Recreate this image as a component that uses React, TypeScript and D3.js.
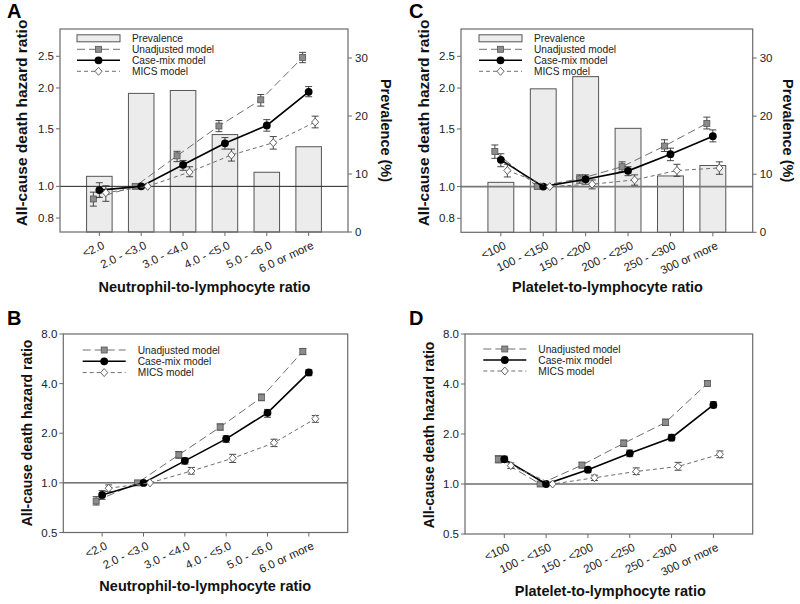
import React from "react";
import * as d3 from "d3";

const nlrCats = ["<2.0", "2.0 - <3.0", "3.0 - <4.0", "4.0 - <5.0", "5.0 - <6.0", "6.0 or more"];
const plrCats = ["<100", "100 - <150", "150 - <200", "200 - <250", "250 - <300", "300 or more"];

const hrTicksTop = [0.8, 1.0, 1.5, 2.0, 2.5];
const prevTicks = [0, 10, 20, 30];
const hrTicksBottom = [0.5, 1.0, 2.0, 4.0, 8.0];

// Panel A
const prevA = [9.6, 23.9, 24.4, 16.8, 10.3, 14.7];
const unadjA = [0.915, 1.0, 1.24, 1.53, 1.84, 2.48];
const unadjALo = [0.87, 1.0, 1.19, 1.47, 1.76, 2.39];
const unadjAHi = [0.96, 1.0, 1.28, 1.59, 1.91, 2.57];
const caseA = [0.974, 1.0, 1.164, 1.354, 1.536, 1.947];
const caseALo = [0.925, 1.0, 1.12, 1.3, 1.475, 1.88];
const caseAHi = [1.026, 1.0, 1.2, 1.41, 1.6, 2.02];
const micsA = [0.956, 1.0, 1.106, 1.247, 1.36, 1.573];
const micsALo = [0.9, 1.0, 1.07, 1.195, 1.3, 1.51];
const micsAHi = [1.004, 1.0, 1.148, 1.3, 1.42, 1.64];

// Panel C
const prevC = [8.6, 24.7, 26.8, 17.9, 9.7, 11.5];
const unadjC = [1.28, 1.0, 1.056, 1.15, 1.33, 1.56];
const unadjCLo = [1.22, 1.0, 1.024, 1.11, 1.28, 1.5];
const unadjCHi = [1.34, 1.0, 1.086, 1.19, 1.39, 1.63];
const caseC = [1.207, 1.0, 1.053, 1.117, 1.256, 1.426];
const caseCLo = [1.15, 1.0, 1.017, 1.08, 1.2, 1.37];
const caseCHi = [1.26, 1.0, 1.086, 1.15, 1.31, 1.49];
const micsC = [1.12, 1.0, 1.017, 1.048, 1.12, 1.14];
const micsCLo = [1.07, 1.0, 0.984, 1.01, 1.075, 1.09];
const micsCHi = [1.17, 1.0, 1.048, 1.086, 1.17, 1.19];

// Panel B
const unadjB = [0.776, 1.0, 1.48, 2.18, 3.3, 6.28];
const unadjBLo = [0.734, 1.0, 1.41, 2.09, 3.15, 6.0];
const unadjBHi = [0.825, 1.0, 1.55, 2.28, 3.46, 6.52];
const caseB = [0.845, 1.0, 1.36, 1.85, 2.66, 4.68];
const caseBLo = [0.795, 1.0, 1.3, 1.76, 2.5, 4.47];
const caseBHi = [0.897, 1.0, 1.42, 1.93, 2.79, 4.86];
const micsB = [0.928, 1.0, 1.18, 1.41, 1.75, 2.45];
const micsBLo = [0.885, 1.0, 1.13, 1.33, 1.66, 2.33];
const micsBHi = [0.972, 1.0, 1.24, 1.49, 1.84, 2.56];

// Panel D
const unadjD = [1.41, 1.0, 1.3, 1.76, 2.35, 4.03];
const unadjDLo = [1.34, 1.0, 1.25, 1.68, 2.25, 3.88];
const unadjDHi = [1.48, 1.0, 1.35, 1.84, 2.46, 4.18];
const caseD = [1.41, 1.0, 1.22, 1.53, 1.9, 2.99];
const caseDLo = [1.355, 1.0, 1.17, 1.46, 1.82, 2.88];
const caseDHi = [1.47, 1.0, 1.26, 1.6, 1.99, 3.13];
const micsD = [1.29, 1.0, 1.09, 1.19, 1.275, 1.51];
const micsDLo = [1.24, 1.0, 1.05, 1.14, 1.21, 1.44];
const micsDHi = [1.34, 1.0, 1.13, 1.25, 1.35, 1.58];

const FONT = "'Liberation Sans', Arial, Helvetica, sans-serif";
const FRAME = "#6a6a6a";

type Series = { v: number[]; lo: number[]; hi: number[] };

type PanelProps = {
  letter: string;
  letterX: number;
  letterY: number;
  left: number;
  right: number;
  top: number;
  bottom: number;
  cats: string[];
  yDomain: [number, number];
  yTicks: number[];
  prev?: number[];
  unadj: Series;
  cm: Series;
  mics: Series;
  xLabel: string;
  xLabelX: number;
  xLabelY: number;
  yLabelX: number;
  yLabelY: number;
  yLabelSize: number;
  prevLabelX?: number;
  legendX: number;
  legendY: number;
  legendStep: number;
  refColor: string;
  refWidth: number;
};

function Square({ x, y }: { x: number; y: number }) {
  return <rect x={x - 3} y={y - 3} width={6} height={6} fill="#8c8c8c" stroke="#555" strokeWidth={0.8} />;
}
function Dot({ x, y }: { x: number; y: number }) {
  return <circle cx={x} cy={y} r={3.9} fill="#000" />;
}
function Diamond({ x, y }: { x: number; y: number }) {
  return (
    <path
      d={`M${x},${y - 4}L${x + 3.5},${y}L${x},${y + 4}L${x - 3.5},${y}Z`}
      fill="#fff"
      stroke="#555"
      strokeWidth={0.9}
    />
  );
}

function Panel(p: PanelProps) {
  const x = d3.scalePoint<string>().domain(p.cats).range([p.left, p.right]).padding(0.94);
  const step = x.step();
  const y = d3.scaleLog().domain(p.yDomain).range([p.bottom, p.top]);
  const yp = d3.scaleLinear().domain([0, 35]).range([p.bottom, p.top]);
  const offs = [-6, 0, 6.5];
  const series = [
    { s: p.unadj, dash: "8,4", color: "#6e6e6e", width: 1, M: Square },
    { s: p.cm, dash: undefined, color: "#000", width: 1.6, M: Dot },
    { s: p.mics, dash: "4,3", color: "#6e6e6e", width: 1, M: Diamond },
  ];
  const line = d3.line<[number, number]>().x((d) => d[0]).y((d) => d[1]);
  const barW = step * 0.61;
  const legendItems = p.prev
    ? ["Prevalence", "Unadjusted model", "Case-mix model", "MICS model"]
    : ["Unadjusted model", "Case-mix model", "MICS model"];
  const lx0 = p.legendX;
  const lx1 = p.legendX + 43;
  const lxm = (lx0 + lx1) / 2;
  return (
    <g fontFamily={FONT}>
      <text x={p.letterX} y={p.letterY} fontSize={20} fontWeight="bold" fill="#000">
        {p.letter}
      </text>
      {/* bars */}
      {p.prev &&
        p.prev.map((v, i) => (
          <rect
            key={"b" + i}
            x={(x(p.cats[i]) as number) - barW / 2}
            y={yp(v)}
            width={barW}
            height={p.bottom - yp(v)}
            fill="#ececec"
            stroke="#555"
            strokeWidth={1}
          />
        ))}
      {/* reference line */}
      <line x1={p.left} x2={p.right} y1={y(1)} y2={y(1)} stroke={p.refColor} strokeWidth={p.refWidth} />
      {/* frame */}
      <rect x={p.left} y={p.top} width={p.right - p.left} height={p.bottom - p.top} fill="none" stroke={FRAME} strokeWidth={1.2} />
      {/* left ticks */}
      {p.yTicks.map((t) => (
        <g key={"yt" + t}>
          <line x1={p.left - 4} x2={p.left} y1={y(t)} y2={y(t)} stroke={FRAME} />
          <text x={p.left - 6} y={y(t)} dy="0.35em" textAnchor="end" fontSize={11.5} fill="#222">
            {t.toFixed(1)}
          </text>
        </g>
      ))}
      {/* right ticks */}
      {p.prev &&
        prevTicks.map((t) => (
          <g key={"pt" + t}>
            <line x1={p.right} x2={p.right + 4} y1={yp(t)} y2={yp(t)} stroke={FRAME} />
            <text x={p.right + 7} y={yp(t)} dy="0.35em" textAnchor="start" fontSize={11.5} fill="#222">
              {t}
            </text>
          </g>
        ))}
      {/* bottom ticks and labels */}
      {p.cats.map((c) => {
        const cx = x(c) as number;
        return (
          <g key={"xt" + c}>
            <line x1={cx} x2={cx} y1={p.bottom} y2={p.bottom + 4} stroke={FRAME} />
            <text
              transform={`translate(${cx + 6},${p.bottom + 16}) rotate(-25)`}
              textAnchor="end"
              fontSize={11.5}
              fill="#222"
            >
              {c}
            </text>
          </g>
        );
      })}
      {/* series */}
      {series.map((sr, si) => {
        const pts: [number, number][] = sr.s.v.map((v, i) => [(x(p.cats[i]) as number) + offs[si], y(v)]);
        return (
          <g key={"s" + si}>
            <path d={line(pts) || ""} fill="none" stroke={sr.color} strokeWidth={sr.width} strokeDasharray={sr.dash} />
            {sr.s.v.map((v, i) => {
              const px = pts[i][0];
              if (sr.s.hi[i] === sr.s.lo[i]) return null;
              return (
                <g key={"e" + i} stroke="#333" strokeWidth={0.9}>
                  <line x1={px} x2={px} y1={y(sr.s.hi[i])} y2={y(sr.s.lo[i])} />
                  <line x1={px - 3.5} x2={px + 3.5} y1={y(sr.s.hi[i])} y2={y(sr.s.hi[i])} />
                  <line x1={px - 3.5} x2={px + 3.5} y1={y(sr.s.lo[i])} y2={y(sr.s.lo[i])} />
                </g>
              );
            })}
            {pts.map((pt, i) => (
              <sr.M key={"m" + i} x={pt[0]} y={pt[1]} />
            ))}
          </g>
        );
      })}
      {/* legend */}
      {legendItems.map((label, i) => {
        const ly = p.legendY + i * p.legendStep;
        const kind = p.prev ? i : i + 1;
        let sym: React.ReactNode = null;
        if (kind === 0) {
          sym = <rect x={lx0} y={ly - 3.5} width={lx1 - lx0} height={7} fill="#ececec" stroke="#555" />;
        } else {
          const sr = series[kind - 1];
          sym = (
            <g>
              <line x1={lx0} x2={lx1} y1={ly} y2={ly} stroke={sr.color} strokeWidth={sr.width} strokeDasharray={sr.dash} />
              <sr.M x={lxm} y={ly} />
            </g>
          );
        }
        return (
          <g key={"l" + i}>
            {sym}
            <text x={lx1 + 12} y={ly} dy="0.35em" fontSize={10.2} fill="#222">
              {label}
            </text>
          </g>
        );
      })}
      {/* axis labels */}
      <text x={p.xLabelX} y={p.xLabelY} textAnchor="middle" fontSize={14.5} fontWeight="bold" fill="#111">
        {p.xLabel}
      </text>
      <text
        transform={`translate(${p.yLabelX},${p.yLabelY}) rotate(-90)`}
        textAnchor="middle"
        fontSize={p.yLabelSize}
        fontWeight="bold"
        fill="#111"
      >
        All-cause death hazard ratio
      </text>
      {p.prev && p.prevLabelX !== undefined && (
        <text
          transform={`translate(${p.prevLabelX},${(p.top + p.bottom) / 2}) rotate(90)`}
          textAnchor="middle"
          fontSize={14.5}
          fontWeight="bold"
          fill="#111"
        >
          Prevalence (%)
        </text>
      )}
    </g>
  );
}

export default function App() {
  return (
    <svg
      width={800}
      height={604}
      style={{ position: "absolute", left: 0, top: 0, background: "#fff" }}
    >
      <rect width={800} height={604} fill="#fff" />
      <Panel
        letter="A"
        letterX={7}
        letterY={18}
        left={60}
        right={348}
        top={29}
        bottom={232}
        cats={nlrCats}
        yDomain={[0.725, 3.03]}
        yTicks={hrTicksTop}
        prev={prevA}
        unadj={{ v: unadjA, lo: unadjALo, hi: unadjAHi }}
        cm={{ v: caseA, lo: caseALo, hi: caseAHi }}
        mics={{ v: micsA, lo: micsALo, hi: micsAHi }}
        xLabel="Neutrophil-to-lymphocyte ratio"
        xLabelX={204.5}
        xLabelY={292}
        yLabelX={27}
        yLabelY={123}
        yLabelSize={15.5}
        prevLabelX={381}
        legendX={77}
        legendY={38.3}
        legendStep={11}
        refColor="#222"
        refWidth={1}
      />
      <Panel
        letter="C"
        letterX={409}
        letterY={18}
        left={461}
        right={752.7}
        top={29}
        bottom={232.3}
        cats={plrCats}
        yDomain={[0.725, 3.03]}
        yTicks={hrTicksTop}
        prev={prevC}
        unadj={{ v: unadjC, lo: unadjCLo, hi: unadjCHi }}
        cm={{ v: caseC, lo: caseCLo, hi: caseCHi }}
        mics={{ v: micsC, lo: micsCLo, hi: micsCHi }}
        xLabel="Platelet-to-lymphocyte ratio"
        xLabelX={607.5}
        xLabelY={292}
        yLabelX={428.5}
        yLabelY={123}
        yLabelSize={15.5}
        prevLabelX={783}
        legendX={479}
        legendY={38.3}
        legendStep={11}
        refColor="#777"
        refWidth={1.6}
      />
      <Panel
        letter="B"
        letterX={7}
        letterY={325}
        left={63.3}
        right={347.7}
        top={334}
        bottom={532.5}
        cats={nlrCats}
        yDomain={[0.5, 8]}
        yTicks={hrTicksBottom}
        unadj={{ v: unadjB, lo: unadjBLo, hi: unadjBHi }}
        cm={{ v: caseB, lo: caseBLo, hi: caseBHi }}
        mics={{ v: micsB, lo: micsBLo, hi: micsBHi }}
        xLabel="Neutrophil-to-lymphocyte ratio"
        xLabelX={205.3}
        xLabelY={591}
        yLabelX={32}
        yLabelY={433}
        yLabelSize={14}
        legendX={82.7}
        legendY={350}
        legendStep={11.3}
        refColor="#222"
        refWidth={1}
      />
      <Panel
        letter="D"
        letterX={409}
        letterY={325}
        left={465}
        right={752.7}
        top={334}
        bottom={534}
        cats={plrCats}
        yDomain={[0.5, 8]}
        yTicks={hrTicksBottom}
        unadj={{ v: unadjD, lo: unadjDLo, hi: unadjDHi }}
        cm={{ v: caseD, lo: caseDLo, hi: caseDHi }}
        mics={{ v: micsD, lo: micsDLo, hi: micsDHi }}
        xLabel="Platelet-to-lymphocyte ratio"
        xLabelX={610.3}
        xLabelY={596}
        yLabelX={433.5}
        yLabelY={435}
        yLabelSize={14}
        legendX={483.3}
        legendY={349}
        legendStep={11}
        refColor="#222"
        refWidth={1}
      />
    </svg>
  );
}
